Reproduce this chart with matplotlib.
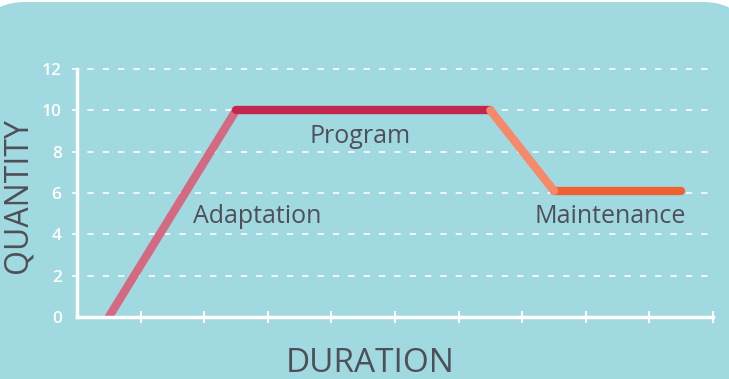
import matplotlib
matplotlib.use("Agg")
import matplotlib.pyplot as plt
from matplotlib.patches import FancyBboxPatch

# phase path (duration, quantity)
adapt_x = [0.5, 2.5]
adapt_y = [0, 10]
program_x = [2.5, 6.5]
program_y = [10, 10]
drop_x = [6.5, 7.5]
drop_y = [10, 6.1]
maint_x = [7.5, 9.5]
maint_y = [6.1, 6.1]

y_ticks = [0, 2, 4, 6, 8, 10, 12]
x_ticks = [1, 2, 3, 4, 5, 6, 7, 8, 9, 10]

labels = ['Adaptation', 'Program', 'Maintenance']
label_x = [2.83, 4.45, 8.38]
label_y = [4.54, 8.41, 4.54]

bg = '#a1d9e0'
text_col = '#4f4f57'
font = 'Open Sans'


def main():
    fig = plt.figure(figsize=(7.29, 3.79), dpi=100)
    fig.patch.set_facecolor('white')

    # rounded teal card behind everything
    back = fig.add_axes([0, 0, 1, 1])
    back.set_xlim(0, 729)
    back.set_ylim(379, 0)
    back.axis('off')
    back.add_patch(FancyBboxPatch((-20, 2), 768, 420,
                                  boxstyle='round,pad=0,rounding_size=45',
                                  facecolor=bg, edgecolor='none'))

    ax = fig.add_axes([77 / 729, 62 / 379, 636 / 729, 248 / 379])
    ax.set_facecolor('none')
    ax.set_xlim(0, 10)
    ax.set_ylim(0, 12)

    # dashed grid
    for y in y_ticks[1:]:
        ax.plot([-0.08, 10], [y, y], color='white', lw=1.3, ls=(0, (3.5, 5)),
                clip_on=False, zorder=1, alpha=0.9)

    ax.plot(adapt_x, adapt_y, color='#d46a82', lw=6, solid_capstyle='round', zorder=3)
    ax.plot(program_x, program_y, color='#c2284f', lw=6, solid_capstyle='round', zorder=3)
    ax.plot(drop_x, drop_y, color='#f7896b', lw=6, solid_capstyle='round', zorder=4)
    ax.plot(maint_x, maint_y, color='#ef6131', lw=6, solid_capstyle='round', zorder=3)

    for name, x, y in zip(labels, label_x, label_y):
        ax.text(x, y, name, color=text_col, fontsize=18, family=font,
                ha='center', va='baseline')

    for side in ['top', 'right']:
        ax.spines[side].set_visible(False)
    for side in ['left', 'bottom']:
        ax.spines[side].set_color('white')
        ax.spines[side].set_linewidth(2.5)
        ax.spines[side].set_zorder(5)

    ax.set_yticks(y_ticks)
    ax.set_yticklabels([str(v) for v in y_ticks], color='white', fontsize=12.5,
                       family=font, fontweight='semibold')
    ax.tick_params(axis='y', length=0, pad=11)
    ax.set_xticks(x_ticks)
    ax.set_xticklabels([])
    ax.tick_params(axis='x', direction='inout', length=9, width=1.5, color='white')

    fig.text(26 / 729, 1 - 196 / 379, 'QUANTITY', rotation=90, rotation_mode='anchor',
             color=text_col, fontsize=23, family=font, ha='center', va='baseline')
    fig.text(370 / 729, 1 - 372 / 379, 'DURATION', color=text_col,
             fontsize=24, family=font, ha='center', va='baseline')

    fig.savefig('out.png', dpi=100, facecolor='white')


if __name__ == '__main__':
    main()
